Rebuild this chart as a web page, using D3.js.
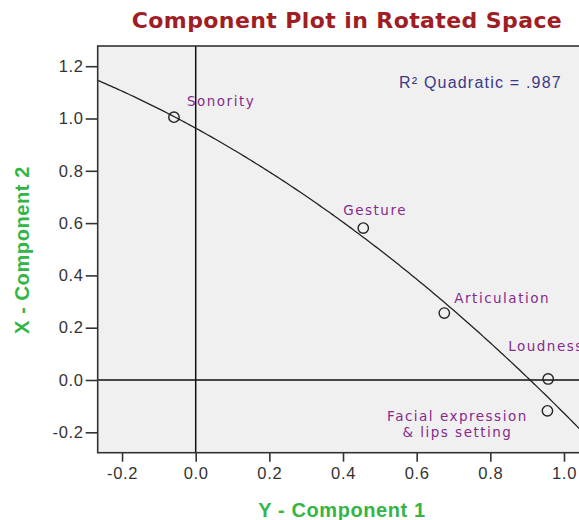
<!DOCTYPE html>
<html><head><meta charset="utf-8">
<script src="https://cdn.jsdelivr.net/npm/d3@7"></script>
<style>body{margin:0;background:#fff}svg{display:block}</style>
</head><body>
<svg id="c" width="579" height="520"></svg>
<script>
const labels = ["Sonority","Gesture","Articulation","Loudness","Facial expression\n& lips setting"];
const comp1 = [-0.059, 0.455, 0.675, 0.957, 0.955];
const comp2 = [1.005, 0.581, 0.256, 0.004, -0.118];
const xTicks = [-0.2, 0.0, 0.2, 0.4, 0.6, 0.8, 1.0];
const yTicks = [-0.2, 0.0, 0.2, 0.4, 0.6, 0.8, 1.0, 1.2];
const fitCoef = [0.963, -0.772, -0.318]; // quadratic: a + b x + c x^2
const rsqText = "R² Quadratic = .987";

(function(){
const svg = d3.select("#c");
const pL = 97.7, pT = 46, pB = 452.7;
const x = d3.scaleLinear().domain([0, 1.0]).range([195.7, 564]);
const y = d3.scaleLinear().domain([0, 1.0]).range([380, 118.5]);
const xmin = x.invert(pL), xmax = 1.12;
const pR = x(xmax);

svg.append("rect").attr("x", pL).attr("y", pT).attr("width", pR-pL).attr("height", pB-pT)
  .attr("fill", "#f0f0f0");

const g = svg.append("g");
g.append("line").attr("x1", x(0)).attr("x2", x(0)).attr("y1", pT).attr("y2", pB).attr("stroke","#111").attr("stroke-width",1.5);
g.append("line").attr("x1", pL).attr("x2", pR).attr("y1", y(0)).attr("y2", y(0)).attr("stroke","#111").attr("stroke-width",1.5);

const fx = d3.range(0, 201).map(i => xmin + (xmax - xmin) * i / 200);
svg.append("clipPath").attr("id","pc").append("rect").attr("x", pL).attr("y", pT).attr("width", pR-pL).attr("height", pB-pT);
g.append("path").attr("clip-path","url(#pc)")
  .datum(fx)
  .attr("d", d3.line().x(d => x(d)).y(d => y(fitCoef[0] + fitCoef[1]*d + fitCoef[2]*d*d)))
  .attr("fill","none").attr("stroke","#222").attr("stroke-width",1.3);

svg.append("rect").attr("x", pL).attr("y", pT).attr("width", pR-pL).attr("height", pB-pT)
  .attr("fill", "none").attr("stroke", "#333").attr("stroke-width", 1.6);

const fmt = d => d3.format(".1f")(d).replace("−","-");
const yAxis = d3.axisLeft(y).tickValues(yTicks).tickFormat(fmt).tickSize(12).tickPadding(2);
const ya = svg.append("g").attr("transform", `translate(${pL},0)`).call(yAxis);
const xAxis = d3.axisBottom(x).tickValues(xTicks).tickFormat(fmt).tickSize(9).tickPadding(6);
const xa = svg.append("g").attr("transform", `translate(0,${pB})`).call(xAxis);
[ya, xa].forEach(a => {
  a.select(".domain").remove();
  a.selectAll(".tick line").attr("stroke","#333").attr("stroke-width",1.6);
  a.selectAll(".tick text").attr("fill","#333").style("font-family","Liberation Sans, Arial, sans-serif")
    .style("font-size","16.5px").style("letter-spacing","0.7px");
});

const pts = labels.map((l,i) => ({l, cx: comp1[i], cy: comp2[i]}));
svg.selectAll("circle.pt").data(pts).enter().append("circle").attr("class","pt")
  .attr("cx", d => x(d.cx)).attr("cy", d => y(d.cy)).attr("r", 5.2)
  .attr("fill","none").attr("stroke","#222").attr("stroke-width",1.4);

const labelPos = [
  {dx: 13, dy: -11, anchor: "start"},
  {dx: -20, dy: -13, anchor: "start"},
  {dx: 10, dy: -10, anchor: "start"},
  {dx: -40, dy: -28, anchor: "start"},
  {dx: -90, dy: 10, anchor: "middle"}
];
pts.forEach((d,i) => {
  const lines = d.l.split("\n");
  const t = svg.append("text")
    .attr("x", x(d.cx) + labelPos[i].dx).attr("y", y(d.cy) + labelPos[i].dy)
    .attr("text-anchor", labelPos[i].anchor)
    .attr("fill","#862a8c")
    .style("font-family","DejaVu Sans, Verdana, sans-serif").style("font-size","13.5px")
    .style("letter-spacing","1.5px");
  lines.forEach((ln,j) => t.append("tspan").attr("x", x(d.cx) + labelPos[i].dx).attr("dy", j===0?0:16).text(ln));
});

svg.append("text").attr("x", 399).attr("y", 88).attr("fill","#3a3a88")
  .style("font-family","Liberation Sans, Arial, sans-serif").style("font-size","16px")
  .style("letter-spacing","1.2px").text(rsqText);

svg.append("text").attr("x", 347).attr("y", 28).attr("text-anchor","middle").attr("fill","#a01d24")
  .style("font-family","DejaVu Sans, Verdana, sans-serif").style("font-weight","bold").style("font-size","22px")
  .style("letter-spacing","0.4px")
  .text("Component Plot in Rotated Space");

svg.append("text").attr("x", 342).attr("y", 517).attr("text-anchor","middle").attr("fill","#33b548")
  .style("font-family","Liberation Sans, Arial, sans-serif").style("font-weight","bold").style("font-size","20px")
  .style("letter-spacing","0.6px")
  .text("Y - Component 1");
svg.append("text").attr("transform", "translate(29,250) rotate(-90)").attr("text-anchor","middle").attr("fill","#33b548")
  .style("font-family","Liberation Sans, Arial, sans-serif").style("font-weight","bold").style("font-size","20px")
  .style("letter-spacing","0.6px")
  .text("X - Component 2");
})();
</script>
</body></html>
